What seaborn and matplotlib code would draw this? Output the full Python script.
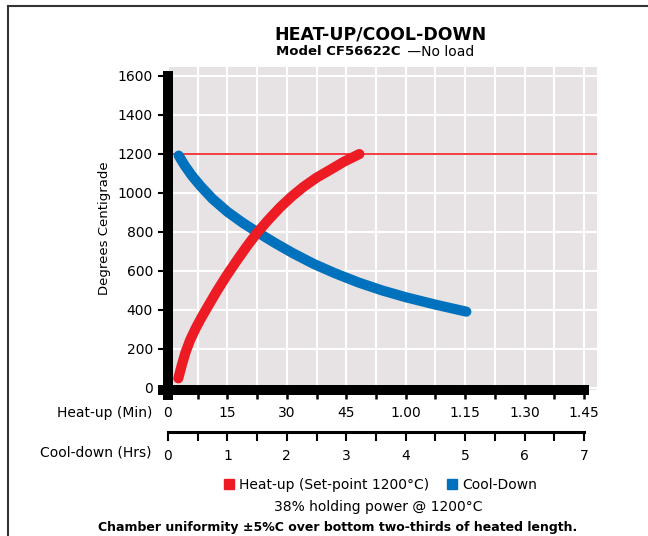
import matplotlib
matplotlib.use("Agg")
import matplotlib.pyplot as plt
import seaborn as sns
import pandas as pd
from matplotlib.patches import Patch
from matplotlib.lines import Line2D

# ---- data ----
heat_minutes = [2.6, 3.4, 4.4, 5.6, 7.0, 8.5, 10.3, 12.3, 14.8, 17.3, 19.8,
                22.4, 25.3, 28.3, 31.2, 34.2, 37.5, 40.9, 44.5, 48.3]
heat_temp = [48, 110, 180, 245, 305, 362, 425, 494, 575, 650, 722,
             792, 860, 925, 980, 1030, 1077, 1117, 1160, 1198]
cool_hours = [0.18, 0.28, 0.40, 0.55, 0.75, 1.0, 1.25, 1.5, 1.8, 2.1, 2.45,
              2.8, 3.2, 3.6, 4.0, 4.5, 5.02]
cool_temp = [1190, 1140, 1088, 1033, 968, 902, 847, 798, 742, 690, 635,
             588, 540, 499, 464, 426, 390]
setpoint = 1200
y_ticks = [0, 200, 400, 600, 800, 1000, 1200, 1400, 1600]
heat_ticks = [0, 15, 30, 45, 60, 75, 90, 105]
heat_labels = ["0", "15", "30", "45", "1.00", "1.15", "1.30", "1.45"]
cool_ticks = [0, 1, 2, 3, 4, 5, 6, 7]

RED = "#ED1C24"
BLUE = "#0071BC"
BG = "#E7E2E3"

plt.rcParams['font.family'] = ['DejaVu Sans']

W, H = 648, 536
fig = plt.figure(figsize=(W / 100, H / 100), dpi=100)

def fx(px):
    return px / W

def fy(py):
    return 1 - py / H

# main axes
ax = fig.add_axes([fx(168), fy(390), fx(597) - fx(168), fy(66.7) - fy(390)])
ax.set_facecolor(BG)

df_heat = pd.DataFrame({"x": heat_minutes, "temp": heat_temp})
# cool-down hours share the axis: 1 hr spans the same length as 15 min
df_cool = pd.DataFrame({"x": [h * 15 for h in cool_hours], "temp": cool_temp})

ax.axhline(setpoint, color=RED, lw=1.2, zorder=2)
sns.lineplot(data=df_cool, x="x", y="temp", ax=ax, color=BLUE, lw=7.3,
             solid_capstyle="round", solid_joinstyle="round", legend=False,
             zorder=3, sort=False)
sns.lineplot(data=df_heat, x="x", y="temp", ax=ax, color=RED, lw=7.3,
             solid_capstyle="round", solid_joinstyle="round", legend=False,
             zorder=4, sort=False)

ax.set_xlim(0, 108.28)
ax.set_ylim(-11.8, 1646)

ax.set_yticks(y_ticks)
ax.set_yticklabels([str(v) for v in y_ticks], fontsize=10)
ax.set_xticks(heat_ticks)
ax.set_xticklabels(heat_labels, fontsize=10)
ax.set_xticks([7.5 + 15 * i for i in range(7)], minor=True)
ax.set_yticks([], minor=True)

ax.grid(True, which="both", color="white", lw=1.5, zorder=1)
ax.set_axisbelow(True)
ax.set_xlabel("")
ax.set_ylabel("Degrees Centigrade", fontsize=9.5, labelpad=5)

for s in ["top", "right"]:
    ax.spines[s].set_visible(False)
ax.spines["left"].set_linewidth(7.2)
ax.spines["bottom"].set_linewidth(7.2)
ax.spines["left"].set_bounds(-37.5, 1600)
ax.spines["bottom"].set_bounds(-1.3, 105)
ax.spines["left"].set_zorder(5)
ax.spines["bottom"].set_zorder(5)

ax.tick_params(axis="y", which="major", length=7.2, width=1.5, pad=3.6, colors="black")
ax.tick_params(axis="x", which="both", length=6.5, width=1.8, pad=5, colors="black")
ax.tick_params(axis="x", which="minor", labelbottom=False)

# cool-down axis
ax2 = fig.add_axes([fx(168), fy(431.5), fx(597) - fx(168), 0.001])
ax2.patch.set_visible(False)
for s in ["top", "right", "left"]:
    ax2.spines[s].set_visible(False)
ax2.spines["bottom"].set_linewidth(2.2)
ax2.spines["bottom"].set_bounds(0, 7)
ax2.set_xlim(0, 108.28 / 15)
ax2.set_yticks([])
ax2.set_xticks(cool_ticks)
ax2.set_xticklabels([str(v) for v in cool_ticks], fontsize=10)
ax2.set_xticks([0.5 + i for i in range(7)], minor=True)
ax2.tick_params(axis="x", which="both", length=6.5, width=1.5, pad=6, colors="black")

fig.text(fx(152), fy(413), "Heat-up (Min)", ha="right", va="center", fontsize=10)
fig.text(fx(152), fy(452), "Cool-down (Hrs)", ha="right", va="center", fontsize=10)

# title
fig.text(fx(380), fy(34.5), "HEAT-UP/COOL-DOWN", ha="center", va="center",
         fontsize=12.5, fontweight="bold")
fig.text(fx(400), fy(51.5), "Model CF56622C", ha="right", va="center",
         fontsize=9.5, fontweight="bold")
fig.text(fx(403), fy(51.5), " \u2014No load", ha="left", va="center", fontsize=10)

# legend
handles = [Patch(color=RED, label="Heat-up (Set-point 1200\u00b0C)"),
           Patch(color=BLUE, label="Cool-Down")]
fig.legend(handles=handles, loc="center", bbox_to_anchor=(fx(380.5), fy(485)),
           ncol=2, frameon=False, fontsize=10, handlelength=0.72, handleheight=0.72,
           handletextpad=0.36, columnspacing=1.3, borderpad=0, borderaxespad=0)

fig.text(fx(378.5), fy(507), "38% holding power @ 1200\u00b0C", ha="center", va="center",
         fontsize=10)
fig.text(fx(338), fy(527), "Chamber uniformity \u00b15%C over bottom two-thirds of heated length.",
         ha="center", va="center", fontsize=9, fontweight="bold")

# frame lines
fig.add_artist(Line2D([fx(8), fx(648)], [fy(6), fy(6)], color="#333333", lw=1.5))
fig.add_artist(Line2D([fx(8), fx(8)], [fy(6), fy(536)], color="#333333", lw=1.5))

fig.savefig("out.png", dpi=100)
